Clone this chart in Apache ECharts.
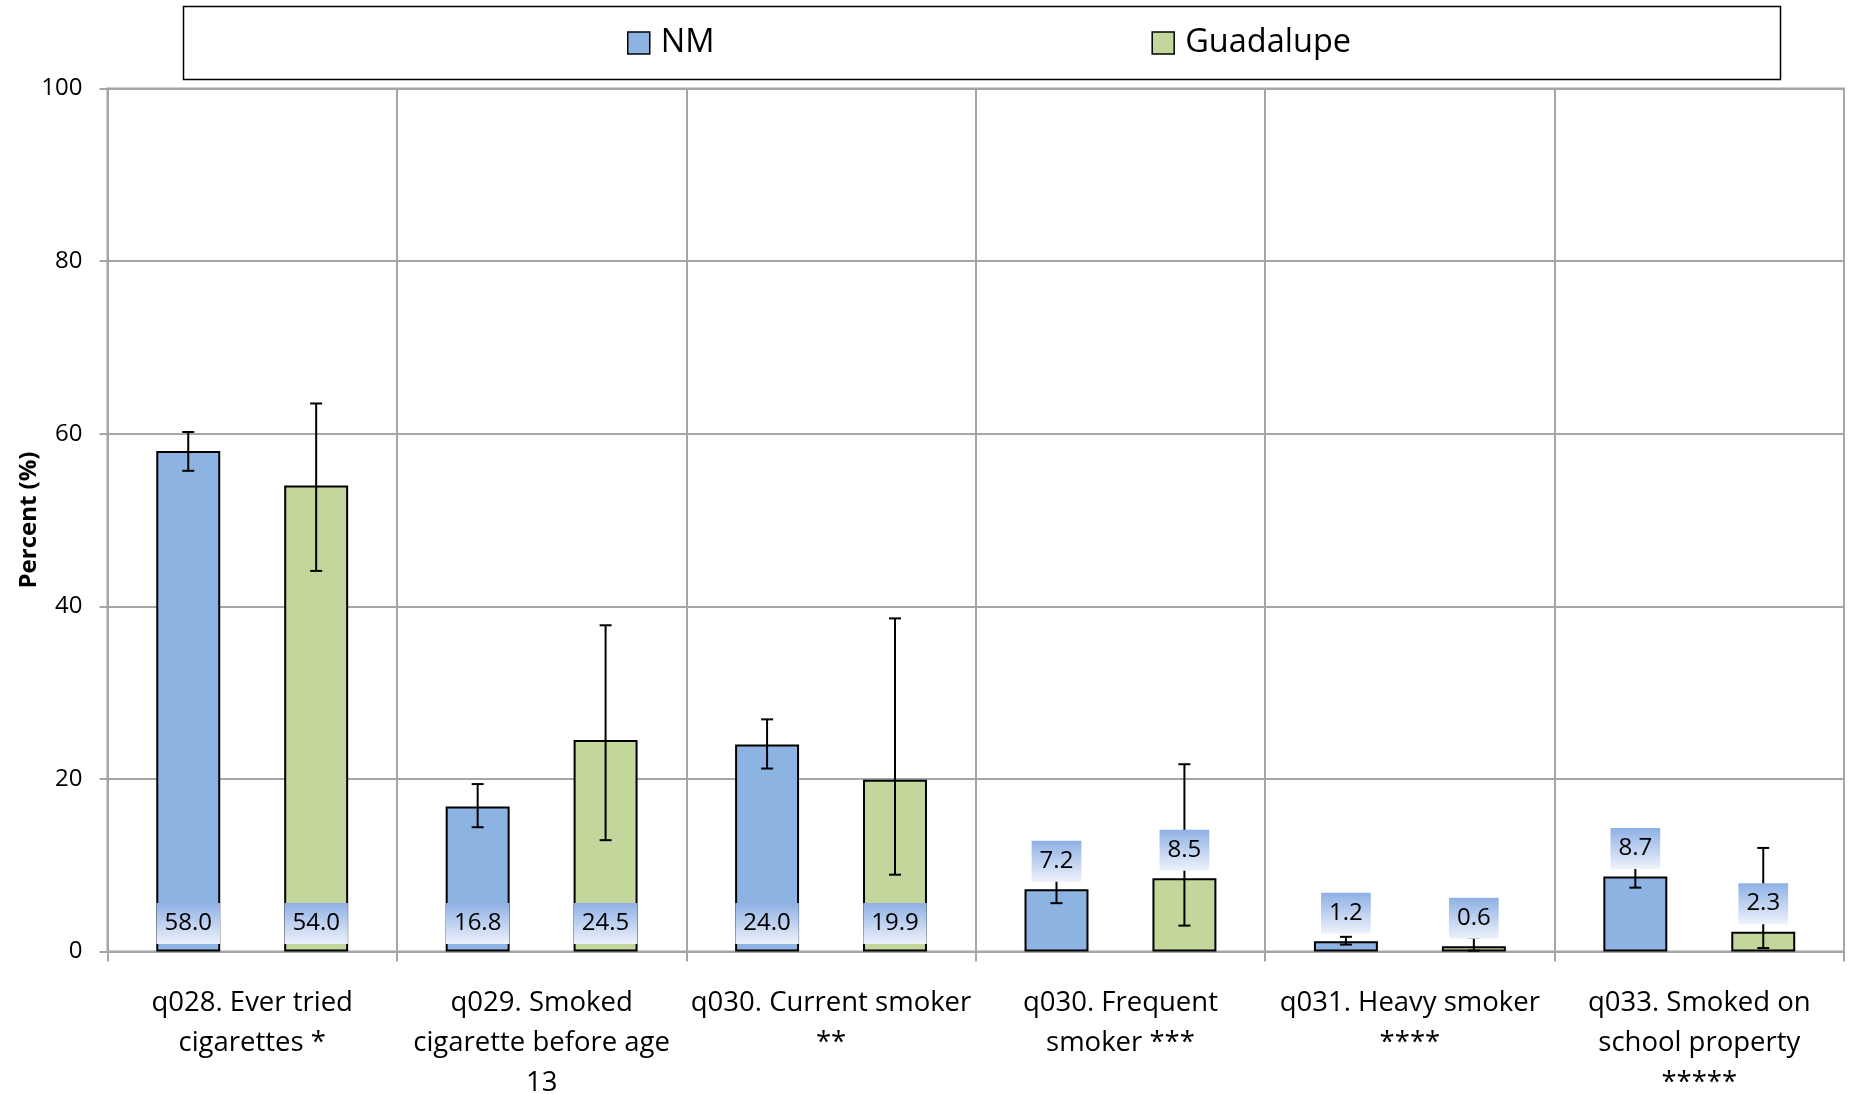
<!DOCTYPE html>
<html>
<head>
<meta charset="utf-8">
<script src="https://cdn.jsdelivr.net/npm/echarts@6/dist/echarts.min.js"></script>
<style>
html,body{margin:0;padding:0;background:#fff;}
#chart{width:1851px;height:1094px;}
</style>
</head>
<body>
<div id="chart"></div>
<script>
const categories = [
  'q028. Ever tried\ncigarettes *',
  'q029. Smoked\ncigarette before age\n13',
  'q030. Current smoker\n**',
  'q030. Frequent\nsmoker ***',
  'q031. Heavy smoker\n****',
  'q033. Smoked on\nschool property\n*****'
];
const seriesNames = ['NM', 'Guadalupe'];
const nmValues = [58.0, 16.8, 24.0, 7.2, 1.2, 8.7];
const guValues = [54.0, 24.5, 19.9, 8.5, 0.6, 2.3];
const nmLow  = [55.7, 14.4, 21.2, 5.6, 0.8, 7.4];
const nmHigh = [60.2, 19.4, 26.9, 8.8, 1.7, 10.0];
const guLow  = [44.1, 12.9, 8.9, 3.0, 0.1, 0.4];
const guHigh = [63.5, 37.8, 38.6, 21.7, 1.6, 12.0];
const yTicks = [0, 20, 40, 60, 80, 100];

const FONT = "'Open Sans', 'Liberation Sans', sans-serif";
const GRID_COLOR = '#a6a6a6';
const NM_COLOR = '#8db3e2';
const GU_COLOR = '#c3d69b';
const BAR_W = '22.1%';
const OFFSET_FRAC = 0.221;

const chart = echarts.init(document.getElementById('chart'), null, {renderer: 'canvas'});

const labelBg = new echarts.graphic.LinearGradient(0, 0, 0, 1, [
  {offset: 0, color: '#8eb0e4'},
  {offset: 1, color: '#eef2fb'}
]);

function labelData(values) {
  return values.map(v => ({
    value: v,
    label: v > 10
      ? {position: 'insideBottom', distance: 7.5}
      : {position: 'top', distance: 7.5}
  }));
}

function errorSeries(low, high, sign, name) {
  return {
    type: 'custom',
    name: name,
    xAxisIndex: 0,
    yAxisIndex: 0,
    z: 3,
    silent: true,
    data: low.map((l, i) => [i, l, high[i]]),
    encode: {x: 0, y: [1, 2]},
    renderItem: function (params, api) {
      const idx = api.value(0);
      const lo = api.coord([idx, api.value(1)]);
      const hi = api.coord([idx, api.value(2)]);
      const band = api.size([1, 0])[0];
      const x = lo[0] + sign * band * OFFSET_FRAC;
      const cap = 6;
      const style = {stroke: '#000', lineWidth: 2};
      return {
        type: 'group',
        children: [
          {type: 'line', shape: {x1: x, y1: lo[1], x2: x, y2: hi[1]}, style: style},
          {type: 'line', shape: {x1: x - cap, y1: lo[1], x2: x + cap, y2: lo[1]}, style: style},
          {type: 'line', shape: {x1: x - cap, y1: hi[1], x2: x + cap, y2: hi[1]}, style: style}
        ]
      };
    }
  };
}

const option = {
  animation: false,
  backgroundColor: '#fff',
  textStyle: {fontFamily: FONT, color: '#000'},
  graphic: [{
    type: 'rect',
    shape: {x: 183.5, y: 6.5, width: 1597, height: 73},
    style: {fill: 'none', stroke: '#000', lineWidth: 1.5},
    z: 0
  }],
  legend: {
    data: seriesNames,
    left: 627,
    top: 26,
    padding: 0,
    itemWidth: 22,
    itemHeight: 22,
    itemGap: 437,
    selectedMode: false,
    icon: 'rect',
    itemStyle: {borderColor: '#000', borderWidth: 1.5},
    textStyle: {fontFamily: FONT, fontSize: 32.5, color: '#000', padding: [0, 0, 0, 6], lineHeight: 34}
  },
  grid: {
    left: 107.5, right: 7, top: 88.5, bottom: 142.5,
    outerBoundsMode: 'none',
    containLabel: false,
    show: true, borderColor: GRID_COLOR, borderWidth: 2, backgroundColor: 'transparent'
  },
  xAxis: [{
    type: 'category',
    data: categories,
    boundaryGap: true,
    axisLine: {show: true, lineStyle: {color: GRID_COLOR, width: 2}},
    axisTick: {show: true, length: 10, lineStyle: {color: GRID_COLOR, width: 2}},
    splitLine: {show: true, lineStyle: {color: GRID_COLOR, width: 2}},
    axisLabel: {interval: 0, fontFamily: FONT, fontSize: 27.5, lineHeight: 40, color: '#000', margin: 32}
  }, {
    type: 'category',
    data: categories,
    show: false,
    boundaryGap: true
  }],
  yAxis: {
    type: 'value',
    min: 0, max: 100, interval: 20,
    name: 'Percent (%)',
    nameLocation: 'middle',
    nameGap: 66,
    nameMoveOverlap: false,
    nameTextStyle: {fontFamily: FONT, fontSize: 24, fontWeight: 'bold', color: '#000'},
    axisLine: {show: true, lineStyle: {color: GRID_COLOR, width: 2}},
    axisTick: {show: true, length: 8, lineStyle: {color: GRID_COLOR, width: 2}},
    splitLine: {show: true, lineStyle: {color: GRID_COLOR, width: 2}},
    axisLabel: {
      fontFamily: FONT, fontSize: 24, color: '#000', margin: 25,
      formatter: v => (yTicks.indexOf(v) >= 0 ? String(v) : '')
    }
  },
  series: [
    {
      name: 'NM', type: 'bar', xAxisIndex: 0, z: 2,
      barWidth: BAR_W, barGap: '100%',
      data: nmValues,
      itemStyle: {color: NM_COLOR, borderColor: '#000', borderWidth: 2},
      label: {show: false}
    },
    {
      name: 'Guadalupe', type: 'bar', xAxisIndex: 0, z: 2,
      barWidth: BAR_W, barGap: '100%',
      data: guValues,
      itemStyle: {color: GU_COLOR, borderColor: '#000', borderWidth: 2},
      label: {show: false}
    },
    errorSeries(nmLow, nmHigh, -1, 'NM error'),
    errorSeries(guLow, guHigh, 1, 'Guadalupe error'),
    {
      name: 'NM labels', type: 'bar', xAxisIndex: 1, z: 5, silent: true,
      barWidth: BAR_W, barGap: '100%',
      data: labelData(nmValues),
      itemStyle: {color: 'rgba(0,0,0,0)', borderWidth: 0},
      label: {
        show: true, formatter: p => p.value.toFixed(1),
        fontFamily: FONT, fontSize: 24, lineHeight: 25, color: '#000',
        padding: [8, 8], backgroundColor: labelBg
      }
    },
    {
      name: 'Guadalupe labels', type: 'bar', xAxisIndex: 1, z: 5, silent: true,
      barWidth: BAR_W, barGap: '100%',
      data: labelData(guValues),
      itemStyle: {color: 'rgba(0,0,0,0)', borderWidth: 0},
      label: {
        show: true, formatter: p => p.value.toFixed(1),
        fontFamily: FONT, fontSize: 24, lineHeight: 25, color: '#000',
        padding: [8, 8], backgroundColor: labelBg
      }
    }
  ]
};
chart.setOption(option);
</script>
</body>
</html>
